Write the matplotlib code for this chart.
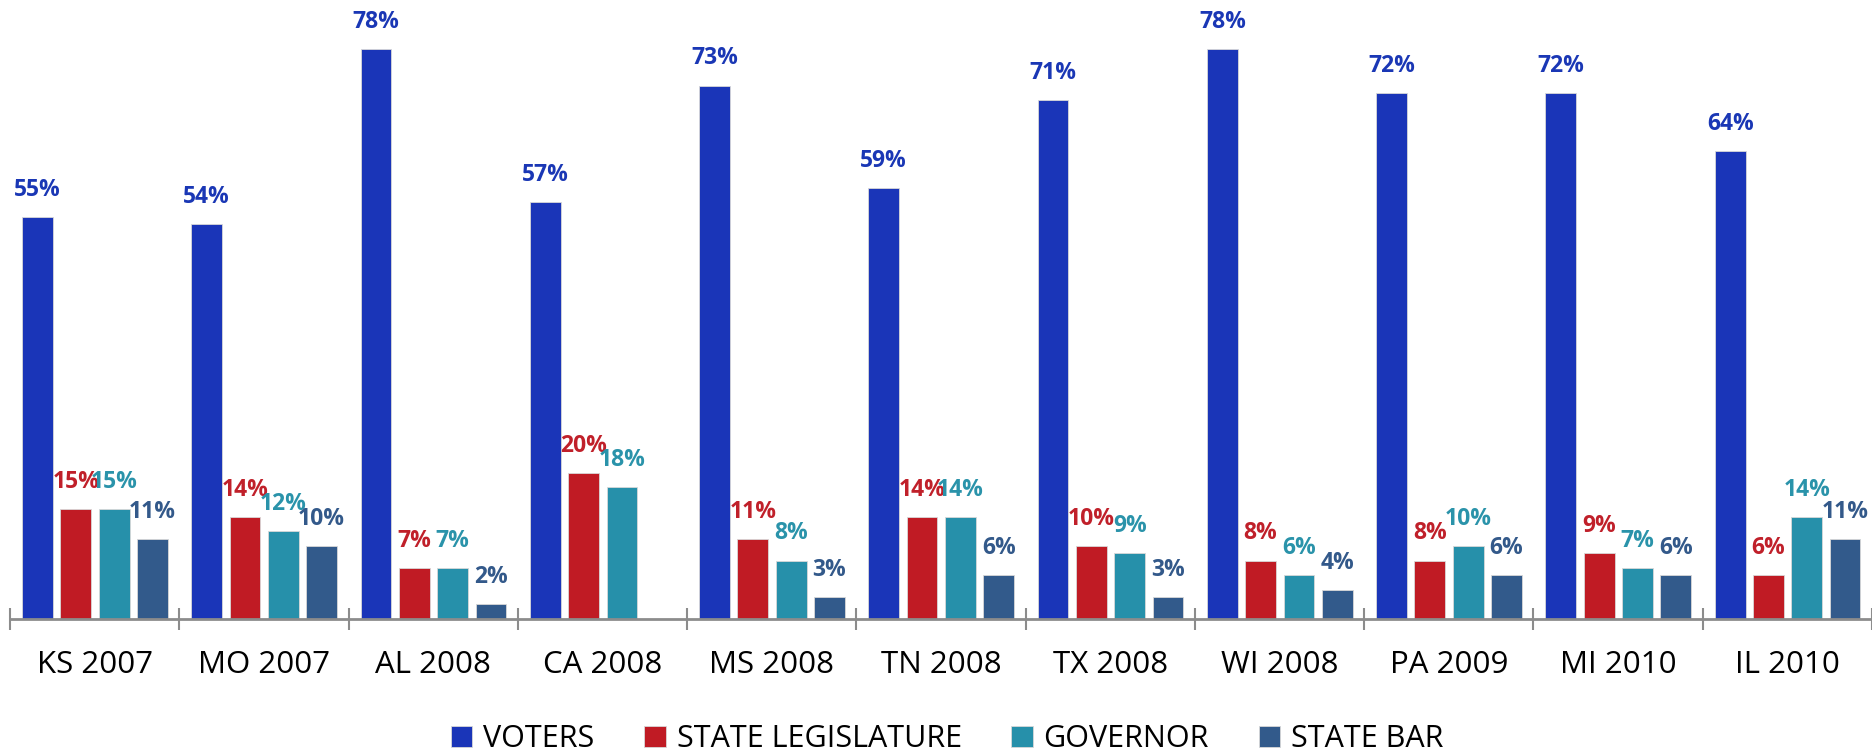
import matplotlib
matplotlib.use("Agg")
import matplotlib.pyplot as plt
import numpy as np

categories = ["KS 2007", "MO 2007", "AL 2008", "CA 2008", "MS 2008", "TN 2008",
              "TX 2008", "WI 2008", "PA 2009", "MI 2010", "IL 2010"]
voters = [55, 54, 78, 57, 73, 59, 71, 78, 72, 72, 64]
legislature = [15, 14, 7, 20, 11, 14, 10, 8, 8, 9, 6]
governor = [15, 12, 7, 18, 8, 14, 9, 6, 10, 7, 14]
state_bar = [11, 10, 2, None, 3, 6, 3, 4, 6, 6, 11]

series = [
    ("VOTERS", voters, "#1a35b8", "#1a37b5"),
    ("STATE LEGISLATURE", legislature, "#c01b24", "#c0202a"),
    ("GOVERNOR", governor, "#2690aa", "#2a93aa"),
    ("STATE BAR", state_bar, "#325a8b", "#33598a"),
]

plt.rcParams["font.family"] = ["Open Sans", "DejaVu Sans"]

fig = plt.figure(figsize=(18.72, 7.51), dpi=100)
ax = fig.add_axes([10 / 1872, 132 / 751, 1 - 10 / 1872, 1 - 132 / 751])

x = np.arange(len(categories))
width = 0.182
offsets = [-0.338, -0.112, 0.115, 0.341]

for (name, vals, color, tcolor), off in zip(series, offsets):
    heights = [v if v is not None else 0 for v in vals]
    ax.bar(x + off, heights, width, color=color, label=name,
           edgecolor="#d8d8d8", linewidth=0.6)
    for xi, v in zip(x + off, vals):
        if v is None:
            continue
        ax.annotate(f"{v}%", (xi, v), xytext=(0, 19.5), textcoords="offset points",
                    ha="center", va="center", fontsize=16.5, fontweight="bold",
                    color=tcolor)

ax.set_xlim(-0.5, len(categories) - 0.5)
ax.set_ylim(0, 84.7)
ax.set_yticks([])
for s in ["top", "right", "left"]:
    ax.spines[s].set_visible(False)
ax.spines["bottom"].set_color("#8c8c8c")
ax.spines["bottom"].set_linewidth(2)

ax.set_xticks(np.arange(len(categories) + 1) - 0.5)
ax.set_xticklabels([])
ax.tick_params(axis="x", which="major", direction="inout", length=16.5,
               width=1.5, color="#8c8c8c")
ax.set_xticks(x, minor=True)
ax.set_xticklabels(categories, minor=True, fontsize=22.5)
ax.tick_params(axis="x", which="minor", length=0, pad=22)

fig.legend(loc="center", ncol=4, frameon=False, fontsize=22,
           handlelength=0.69, handleheight=0.69, handletextpad=0.36,
           columnspacing=1.63, bbox_to_anchor=(0.506, 0.016))

fig.savefig("out.png", dpi=100, facecolor="white")
